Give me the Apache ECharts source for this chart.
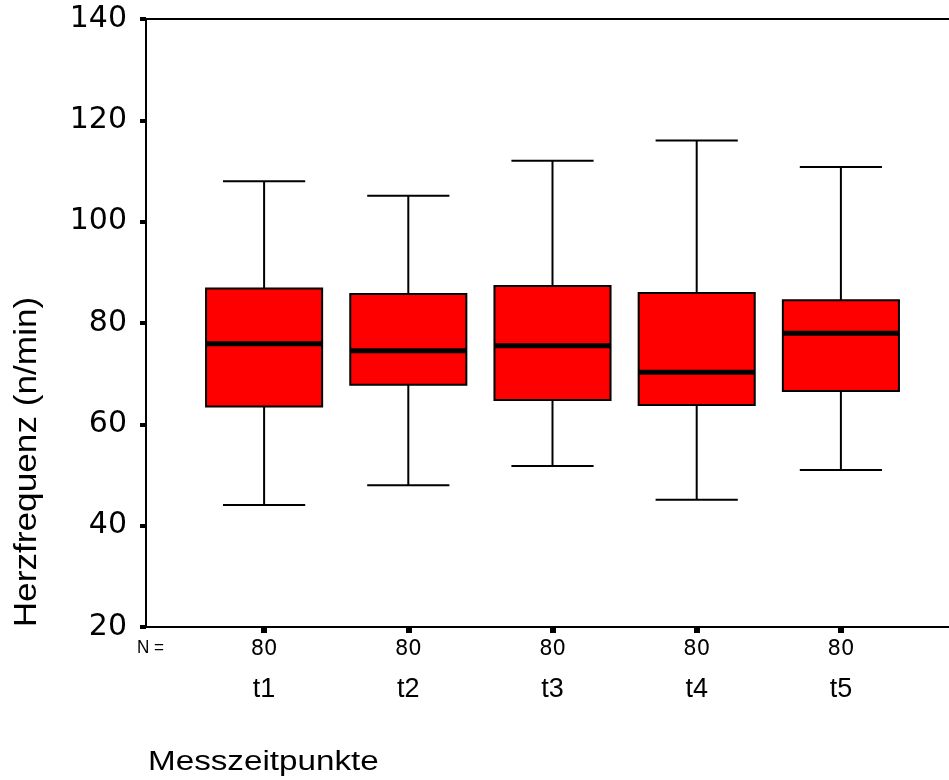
<!DOCTYPE html>
<html>
<head>
<meta charset="utf-8">
<style>html,body{margin:0;padding:0;background:#fff}#c{width:949px;height:780px}</style>
<script src="https://cdn.jsdelivr.net/npm/echarts@6/dist/echarts.min.js"></script>
</head>
<body>
<div id="c"></div>
<script>
const categories = ['t1', 't2', 't3', 't4', 't5'];
const counts = [80, 80, 80, 80, 80];
const lowWhisker = [44.1, 48.0, 51.8, 45.1, 51.0];
const q1 = [63.5, 67.8, 64.8, 63.8, 66.6];
const median = [75.9, 74.5, 75.5, 70.3, 78.0];
const q3 = [86.8, 85.7, 87.3, 85.9, 84.5];
const highWhisker = [108.0, 105.1, 112.0, 116.0, 110.8];
const yMin = 20, yMax = 140, yStep = 20;

const FONT = 'Liberation Sans';
const WIDE = 'DejaVu Sans';
const chart = echarts.init(document.getElementById('c'), null, {renderer: 'canvas'});
const boxData = categories.map((c, i) => [i, lowWhisker[i], q1[i], median[i], q3[i], highWhisker[i]]);

chart.setOption({
  backgroundColor: '#ffffff',
  animation: false,
  grid: [
    {left: 146, right: 0, top: 19, bottom: 153},
    {left: 192, width: 721, top: 19, bottom: 153}
  ],
  xAxis: [
    {gridIndex: 0, type: 'value', min: 0, max: 1, position: 'bottom',
     axisLine: {show: true, onZero: false, lineStyle: {color: '#000', width: 2}},
     axisTick: {show: false}, axisLabel: {show: false}, splitLine: {show: false}},
    {gridIndex: 0, type: 'value', min: 0, max: 1, position: 'top',
     axisLine: {show: true, onZero: false, lineStyle: {color: '#000', width: 2}},
     axisTick: {show: false}, axisLabel: {show: false}, splitLine: {show: false}},
    {gridIndex: 1, type: 'category', data: categories, position: 'bottom',
     axisLine: {show: false, onZero: false},
     axisTick: {show: true, alignWithLabel: true, length: 6, lineStyle: {color: '#000', width: 6}},
     axisLabel: {
       margin: 11, interval: 0, color: '#000', fontFamily: FONT,
       formatter: (v, i) => '{n|' + counts[i] + '}\n{t|' + v + '}',
       rich: {
         n: {fontSize: 21, lineHeight: 24, fontFamily: WIDE, color: '#000'},
         t: {fontSize: 27, lineHeight: 56, fontFamily: FONT, color: '#000'}
       }
     },
     splitLine: {show: false}}
  ],
  yAxis: [
    {gridIndex: 0, type: 'value', min: yMin, max: yMax, interval: yStep,
     axisLine: {show: true, onZero: false, lineStyle: {color: '#000', width: 2}},
     axisTick: {show: true, length: 6, lineStyle: {color: '#000', width: 4}},
     axisLabel: {margin: 19, color: '#000', fontFamily: WIDE, fontSize: 30},
     splitLine: {show: false}},
    {gridIndex: 1, type: 'value', min: yMin, max: yMax, interval: yStep, show: false}
  ],
  graphic: [
    {type: 'text', x: 137, y: 648, scaleX: 0.9,
     style: {text: 'N =', font: '19px "Liberation Sans"', fill: '#000', align: 'left', verticalAlign: 'middle'}},
    {type: 'text', x: 148, y: 763, scaleX: 1.23,
     style: {text: 'Messzeitpunkte', font: '27px "Liberation Sans"', fill: '#000', align: 'left', verticalAlign: 'middle'}},
    {type: 'text', x: 27, y: 462, rotation: Math.PI / 2, scaleX: 1.1,
     style: {text: 'Herzfrequenz (n/min)', font: '32px "Liberation Sans"', fill: '#000', align: 'center', verticalAlign: 'middle'}}
  ],
  series: [{
    type: 'custom',
    xAxisIndex: 2, yAxisIndex: 1,
    data: boxData,
    encode: {x: 0, y: [1, 2, 3, 4, 5]},
    renderItem: function (params, api) {
      const x = api.value(0);
      const lo = api.coord([x, api.value(1)]);
      const a = api.coord([x, api.value(2)]);
      const m = api.coord([x, api.value(3)]);
      const b = api.coord([x, api.value(4)]);
      const hi = api.coord([x, api.value(5)]);
      const band = api.size([1, 0])[0];
      const bw = band * 0.805 / 2, cw = band * 0.57 / 2;
      const cx = lo[0];
      const ls = {stroke: '#000', lineWidth: 2};
      return {type: 'group', children: [
        {type: 'line', shape: {x1: cx, y1: hi[1], x2: cx, y2: b[1]}, style: ls},
        {type: 'line', shape: {x1: cx, y1: a[1], x2: cx, y2: lo[1]}, style: ls},
        {type: 'line', shape: {x1: cx - cw, y1: hi[1], x2: cx + cw, y2: hi[1]}, style: ls},
        {type: 'line', shape: {x1: cx - cw, y1: lo[1], x2: cx + cw, y2: lo[1]}, style: ls},
        {type: 'rect', shape: {x: cx - bw, y: b[1], width: 2 * bw, height: a[1] - b[1]},
         style: {fill: '#ff0000', stroke: '#000', lineWidth: 2}},
        {type: 'line', shape: {x1: cx - bw, y1: m[1], x2: cx + bw, y2: m[1]}, style: {stroke: '#000', lineWidth: 5}}
      ]};
    }
  }]
});
</script>
</body>
</html>
